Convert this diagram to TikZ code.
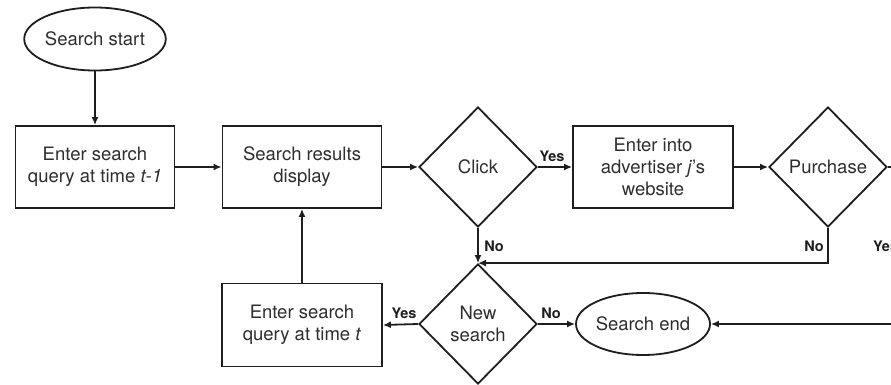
\documentclass[tikz,border=0pt]{standalone}
\usepackage{fontspec}
\setmainfont{TeX Gyre Heros}
\usetikzlibrary{shapes.geometric,arrows.meta}
\definecolor{ink}{HTML}{1E1E1E}
\definecolor{txt}{HTML}{2E2E2E}
\begin{document}
\begin{tikzpicture}[x=1pt,y=-1pt,
  every node/.style={font=\fontsize{18.5}{22}\selectfont, text=txt, align=center},
  boxnode/.style={draw=ink, line width=1.8pt, rectangle, minimum width=159pt, minimum height=82pt, inner sep=0pt},
  decnode/.style={draw=ink, line width=1.8pt, diamond, minimum width=118pt, minimum height=120pt, inner sep=0pt},
  termnode/.style={draw=ink, line width=1.8pt, ellipse, minimum width=135pt, minimum height=63pt, inner sep=0pt},
  conn/.style={draw=ink, line width=1.8pt, -{Latex[length=8pt,width=7pt]}},
  plain/.style={draw=ink, line width=1.8pt},
  lbl/.style={font=\fontsize{14.5}{17}\selectfont\bfseries, text=ink, inner sep=0pt}]
\useasboundingbox (0,0) rectangle (891,385);
\clip (0,0) rectangle (891,385);
\fill[white] (0,0) rectangle (891,385);

\node[termnode] (start) at (95,39) {Search start};
\node[boxnode] (q1) at (95,167) {Enter search\\query at time \textit{t-1}};
\node[boxnode] (disp) at (302,167) {Search results\\display};
\node[decnode] (click) at (478,167) {Click};
\node[boxnode, minimum width=160pt] (web) at (653,167) {Enter into\\advertiser \textit{j}'s\\website};
\node[decnode] (purch) at (828,167) {Purchase};
\node[decnode] (news) at (478,324) {New\\search};
\node[boxnode, minimum width=160pt, minimum height=83pt] (qt) at (302,325) {Enter search\\query at time \textit{t}};
\node[termnode, minimum width=134pt, minimum height=62pt] (send) at (643,324) {Search end};
\coordinate (offA) at (900,167);
\coordinate (offB) at (900,324);

\draw[conn] (start) -- (q1);
\draw[conn] (q1) -- (disp);
\draw[conn] (disp) -- (click);
\draw[conn] (click) -- (web);
\draw[conn] (web) -- (purch);
\draw[conn] (click.south) -- (news.north);
\draw[conn] (purch.south) |- (news.north);
\draw[conn] (news.west) -- (qt.east);
\draw[conn] (qt.north) -- (disp.south);
\draw[conn] (news.east) -- (send.west);
\draw[plain] (purch.east) -- (offA);
\draw[conn] (offB) -- (send.east);

\node[lbl] (lyes1) at (552,156) {Yes};
\node[lbl] (lno1) at (494,246) {No};
\node[lbl] (lno2) at (814,246) {No};
\node[lbl, anchor=west] (lyes2) at (873,246) {Yes};
\node[lbl] (lyes3) at (404,313) {Yes};
\node[lbl] (lno3) at (551,313) {No};
\end{tikzpicture}
\end{document}
